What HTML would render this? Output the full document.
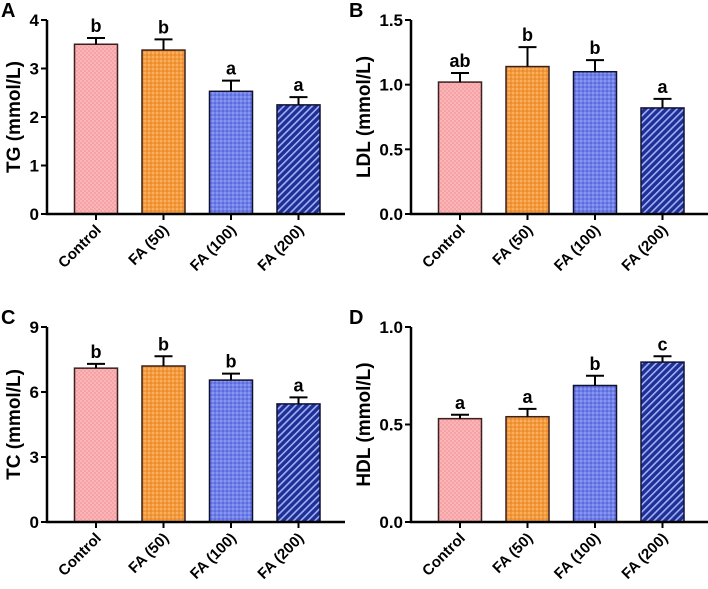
<!DOCTYPE html>
<html><head><meta charset="utf-8"><style>
body{margin:0;background:#fff}
svg{display:block;font-family:"Liberation Sans",Arial,sans-serif;font-weight:bold}
text{font-weight:bold}
</style></head><body>
<svg id="chart" width="708" height="589" viewBox="0 0 708 589">
<defs>
<pattern id="p0" width="4" height="4" patternUnits="userSpaceOnUse"><rect width="4" height="4" fill="#f7a3a6"/><circle cx="1" cy="1" r="0.7" fill="#fbd0d2"/><circle cx="3" cy="3" r="0.7" fill="#fbd0d2"/></pattern>
<pattern id="p1" width="4" height="4" patternUnits="userSpaceOnUse"><rect width="4" height="4" fill="#f59a3c"/><circle cx="1" cy="1" r="0.8" fill="#fcc98c"/><circle cx="3" cy="3" r="0.8" fill="#d98020"/></pattern>
<pattern id="p2" width="4" height="4" patternUnits="userSpaceOnUse"><rect width="4" height="4" fill="#6f80ea"/><circle cx="1" cy="1" r="0.8" fill="#a9b4f5"/><circle cx="3" cy="3" r="0.8" fill="#4858c8"/></pattern>
<pattern id="p3" width="5" height="5" patternUnits="userSpaceOnUse" patternTransform="rotate(-45)"><rect width="5" height="5" fill="#1f2f95"/><rect width="5" height="1.6" fill="#9fb0f5"/></pattern>
</defs>
</svg>
<script>
const categories = ["Control","FA (50)","FA (100)","FA (200)"];
const tgValues = [3.5,3.38,2.53,2.25];
const tgErrors = [0.13,0.22,0.22,0.16];
const tgLetters = ["b","b","a","a"];
const ldlValues = [1.02,1.14,1.10,0.82];
const ldlErrors = [0.07,0.15,0.09,0.07];
const ldlLetters = ["ab","b","b","a"];
const tcValues = [7.1,7.2,6.55,5.45];
const tcErrors = [0.2,0.45,0.3,0.3];
const tcLetters = ["b","b","b","a"];
const hdlValues = [0.53,0.54,0.70,0.82];
const hdlErrors = [0.02,0.04,0.05,0.03];
const hdlLetters = ["a","a","b","c"];
const tgTicks = [0,1,2,3,4];
const ldlTicks = [0,0.5,1.0,1.5];
const tcTicks = [0,3,6,9];
const hdlTicks = [0,0.5,1.0];

const NS="http://www.w3.org/2000/svg";
const svg=document.getElementById('chart');
function mk(tag,attrs,parent){const e=document.createElementNS(NS,tag);for(const k in attrs)e.setAttribute(k,attrs[k]);(parent||svg).appendChild(e);return e;}

function panel(key,letter,ox,y0,ytop,ymax,ticks,fmt,vals,errs,lets,title,lx,tx){
  const g=mk('g',{});
  
  
  const y=v=>y0-(v/ymax)*(y0-ytop);
  const xc=i=>ox+49+i*67.5;
  const bw=43;
  const pl=mk('text',{x:lx,y:ytop-3,'font-size':20},g);pl.textContent=letter;
  
  
  vals.forEach((v,i)=>{
    const b=mk('rect',{x:xc(i)-bw/2,y:y(v),width:bw,height:y0-y(v),fill:'url(#p'+i+')',stroke:i<2?'#3a2020':'#101030','stroke-width':1.5},g);
    
    
    const et=y(v+errs[i]);
    const eb=mk('path',{d:`M${xc(i)} ${y(v)}V${et}M${xc(i)-9} ${et}H${xc(i)+9}`,stroke:'#000','stroke-width':2,fill:'none'},g);
    
    
    const t=mk('text',{x:xc(i),y:et-6,'text-anchor':'middle','font-size':18},g);t.textContent=lets[i];
    
    
    mk('line',{x1:xc(i),x2:xc(i),y1:y0,y2:y0+6,stroke:'#000','stroke-width':2},g);
    const c=mk('text',{x:xc(i)+6,y:y0+17,'text-anchor':'end','font-size':15,transform:`rotate(-45 ${xc(i)+6} ${y0+17})`},g);c.textContent=categories[i];
    
    
  });
  const ax=mk('path',{d:`M${ox} ${ytop}V${y0}H${ox+298}`,stroke:'#000','stroke-width':2.5,fill:'none'},g);
  
  
  ticks.forEach(tv=>{
    mk('line',{x1:ox-6,x2:ox,y1:y(tv),y2:y(tv),stroke:'#000','stroke-width':2},g);
    const t=mk('text',{x:ox-8,y:y(tv)+6,'text-anchor':'end','font-size':17},g);t.textContent=fmt(tv);
    
    
  });
  const yt=mk('text',{x:tx,y:(y0+ytop)/2,'text-anchor':'middle','font-size':19,transform:`rotate(-90 ${tx} ${(y0+ytop)/2})`},g);yt.textContent=title;
  
  
}
const f0=v=>String(v), f1=v=>v.toFixed(1);
panel('tg','A',47,214,20,4,tgTicks,f0,tgValues,tgErrors,tgLetters,'TG (mmol/L)',1,20);
panel('ldl','B',411,214,20,1.5,ldlTicks,f1,ldlValues,ldlErrors,ldlLetters,'LDL (mmol/L)',349,370);
panel('tc','C',47,522,327,9,tcTicks,f0,tcValues,tcErrors,tcLetters,'TC (mmol/L)',1,20);
panel('hdl','D',411,522,327,1.0,hdlTicks,f1,hdlValues,hdlErrors,hdlLetters,'HDL (mmol/L)',349,370);
</script>
</body></html>
